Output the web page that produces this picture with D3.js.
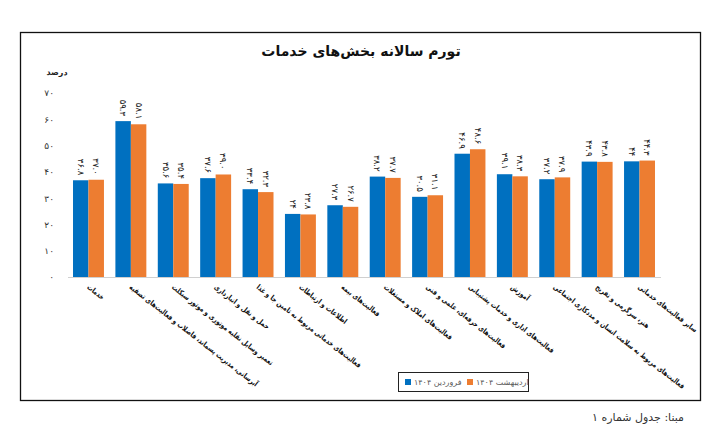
<!DOCTYPE html>
<html>
<head>
<meta charset="utf-8">
<script src="https://cdn.jsdelivr.net/npm/d3@7"></script>
<style>
  body { margin: 0; background: #fff; }
  text { font-family: "DejaVu Sans", sans-serif; }
</style>
</head>
<body>
<div id="chart"></div>
<script>
// chart data
let categories = [
    'خدمات',
    'آبرسانی، مدیریت پسماند، فاضلاب و فعالیت‌های تصفیه',
    'تعمیر وسایل نقلیه موتوری و موتور سیکلت',
    'حمل و نقل و انبارداری',
    'فعالیت‌های خدماتی مربوط به تامین جا و غذا',
    'اطلاعات و ارتباطات',
    'فعالیت‌های بیمه',
    'فعالیت‌های املاک و مستغلات',
    'فعالیت‌های حرفه‌ای، علمی و فنی',
    'فعالیت‌های اداری و خدمات پشتیبانی',
    'آموزش',
    'فعالیت‌های مربوط به سلامت انسان و مددکاری اجتماعی',
    'هنر، سرگرمی و تفریح',
    'سایر فعالیت‌های خدماتی'
];
// values kept as written on the chart (some have no decimal)
let farvardin = ['36.8', '59.3', '35.6', '37.6', '33.4', '24', '27.3', '38.2', '30.5', '46.9', '39.1', '37.2', '43.9', '44'];
let ordibehesht = ['37.0', '58.1', '35.4', '39.0', '32.3', '23.8', '26.7', '37.7', '31.1', '48.6', '38.3', '37.9', '43.8', '44.3'];
let seriesNames = ['فروردین ۱۴۰۴', 'اردیبهشت ۱۴۰۴'];
let yTicks = [0, 10, 20, 30, 40, 50, 60, 70];

let colors = ['#0070C0', '#ED7D31'];

// persian digits
let toFa = s => String(s).replace(/[0-9]/g, d => '۰۱۲۳۴۵۶۷۸۹'[d]);

let svgWidth = 716, svgHeight = 432;

let svg = d3.select('#chart')
    .append('svg')
    .attr('width', svgWidth)
    .attr('height', svgHeight);

svg.append('rect')
    .attr('width', svgWidth)
    .attr('height', svgHeight)
    .attr('fill', '#fff');

// outer frame
svg.append('rect')
    .attr('x', 20.5)
    .attr('y', 32.5)
    .attr('width', 680)
    .attr('height', 368)
    .attr('fill', 'none')
    .attr('stroke', '#111')
    .attr('stroke-width', 1.3);

// title
svg.append('text')
    .attr('x', 361)
    .attr('y', 56)
    .attr('text-anchor', 'middle')
    .attr('font-size', 14)
    .attr('font-weight', 'bold')
    .attr('fill', '#111')
    .text('تورم سالانه بخش‌های خدمات');

// scales
let xScale = d3.scaleBand()
    .domain(categories)
    .range([67.5, 660.5])
    .paddingInner(0.27)
    .paddingOuter(0.13);

let xSub = d3.scaleBand()
    .domain([0, 1])
    .range([0, xScale.bandwidth()]);

let yScale = d3.scaleLinear()
    .domain([0, 70])
    .range([277, 93]);

// y axis labels only
let leftAxis = d3.axisLeft(yScale)
    .tickValues(yTicks)
    .tickSize(0)
    .tickPadding(0)
    .tickFormat(d => toFa(d));

let yAxisG = svg.append('g')
    .attr('transform', 'translate(54, 0)')
    .call(leftAxis);
yAxisG.select('.domain').remove();
yAxisG.selectAll('text')
    .attr('font-size', 9)
    .attr('font-family', '"DejaVu Sans", sans-serif')
    .attr('fill', '#333');

svg.append('text')
    .attr('x', 57)
    .attr('y', 75)
    .attr('text-anchor', 'middle')
    .attr('font-size', 8)
    .attr('font-weight', 'bold')
    .attr('fill', '#222')
    .text('درصد');

// bars
let series = [farvardin, ordibehesht];
let rows = categories.map((c, i) => ({
    cat: c,
    vals: series.map((s, k) => ({ k: k, text: s[i], v: +s[i] }))
}));

let groups = svg.selectAll('.grp')
    .data(rows)
    .enter()
    .append('g')
    .attr('class', 'grp')
    .attr('transform', d => `translate(${xScale(d.cat)}, 0)`);

groups.selectAll('rect')
    .data(d => d.vals)
    .enter()
    .append('rect')
    .attr('x', d => xSub(d.k))
    .attr('y', d => yScale(d.v))
    .attr('width', xSub.bandwidth())
    .attr('height', d => yScale(0) - yScale(d.v))
    .attr('fill', d => colors[d.k]);

// value labels, rotated
groups.selectAll('.val')
    .data(d => d.vals)
    .enter()
    .append('text')
    .attr('class', 'val')
    .attr('transform', d => `translate(${xSub(d.k) + xSub.bandwidth() / 2}, ${yScale(d.v) - 5}) rotate(90)`)
    .attr('dy', '0.35em')
    .attr('text-anchor', 'end')
    .attr('font-size', 8.5)
    .attr('fill', '#222')
    .text(d => toFa(d.text));

// x axis line
let bottomAxis = d3.axisBottom(xScale)
    .tickSize(0)
    .tickFormat('');

let xAxisG = svg.append('g')
    .attr('transform', `translate(0, ${yScale(0)})`)
    .call(bottomAxis);
xAxisG.select('.domain')
    .attr('stroke', '#d0d0d0')
    .attr('stroke-width', 1);

// category labels, slanted
svg.selectAll('.cat')
    .data(categories)
    .enter()
    .append('text')
    .attr('class', 'cat')
    .attr('transform', d => `translate(${xScale(d) + xScale.bandwidth() / 2 - 2}, 288) rotate(38) scale(0.88, 1.1)`)
    .attr('text-anchor', 'start')
    .attr('font-family', '"DejaVu Sans Condensed", "DejaVu Sans", sans-serif')
    .attr('font-size', 6.8)
    .attr('font-weight', 'bold')
    .attr('fill', '#111')
    .text(d => d);

// legend
let legend = svg.append('g')
    .attr('transform', 'translate(398, 372)');

legend.append('rect')
    .attr('x', 0.5)
    .attr('y', 0.5)
    .attr('width', 130)
    .attr('height', 19)
    .attr('fill', '#fff')
    .attr('stroke', '#222')
    .attr('stroke-width', 1);

let legendX = [7, 69];
seriesNames.forEach((name, k) => {
    legend.append('rect')
        .attr('x', legendX[k])
        .attr('y', 7)
        .attr('width', 6)
        .attr('height', 6)
        .attr('fill', colors[k]);
    legend.append('text')
        .attr('x', legendX[k] + 9)
        .attr('y', 13)
        .attr('font-size', 8)
        .attr('fill', '#595959')
        .text(name);
});

// source note
svg.append('text')
    .attr('x', 684)
    .attr('y', 421)
    .attr('text-anchor', 'end')
    .attr('font-size', 11)
    .attr('fill', '#333')
    .text('مبنا: جدول شماره ۱');
</script>
</body>
</html>
